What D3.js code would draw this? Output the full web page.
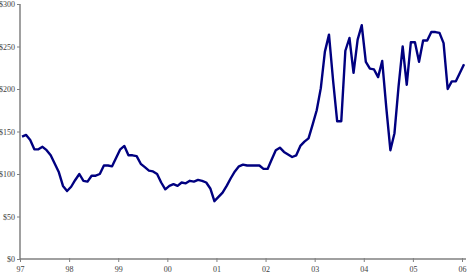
<!DOCTYPE html>
<html><head><meta charset="utf-8">
<script src="https://cdn.jsdelivr.net/npm/d3@7"></script>
<style>body{margin:0;background:#fff}svg{display:block}</style>
</head><body>
<svg id="c" width="467" height="273"></svg>
<script>
const startYear = 1997;
const values = [144,146,140,129,129,132,128,122,112,102,86,80,
  85,93,100,92,91,98,98,100,110,110,109,119,
  129,133,122,122,121,112,108,104,103,100,90,82,
  86,88,86,90,89,92,91,93,92,90,83,68,
  73,78,86,95,103,109,111,110,110,110,110,106,
  106,117,128,131,126,123,120,122,133,138,142,158,
  175,201,244,264,210,162,162,245,260,219,258,275,
  232,224,223,214,233,178,128,148,203,250,205,255,
  255,232,257,257,267,267,266,254,200,209,209,219,229];
const yTicks = [0,50,100,150,200,250,300];
const xTickYears = [1997,1998,1999,2000,2001,2002,2003,2004,2005,2006];
const xTickLabels = ["97","98","99","00","01","02","03","04","05","06"];

const svg = d3.select("#c");
const x = d3.scaleLinear().domain([1997,2006]).range([20,462]);
const y = d3.scaleLinear().domain([0,300]).range([259,4]);
const data = values.map((v,i)=>({t: startYear + (i+0.5)/12, v}));

const font = "'Liberation Serif','Times New Roman',serif";
const gray = "#808080";

// y axis
const ya = svg.append("g").attr("transform","translate(20,0)")
  .call(d3.axisLeft(y).tickValues(yTicks).tickSize(3).tickPadding(2).tickFormat(d=>"$"+d));
ya.select(".domain").attr("stroke",gray).attr("stroke-width",1.5).attr("d","M0,4V259");
ya.selectAll(".tick line").attr("stroke",gray);
ya.selectAll(".tick text").attr("font-family",font).attr("font-size","8px").attr("fill","#404040");

// x axis
const xa = svg.append("g").attr("transform","translate(0,259)")
  .call(d3.axisBottom(x).tickValues(xTickYears).tickSize(3).tickPadding(4)
    .tickFormat((d,i)=>xTickLabels[i]));
xa.select(".domain").attr("stroke",gray).attr("stroke-width",1.5).attr("d","M20,0H466");
xa.selectAll(".tick line").attr("stroke",gray).attr("y1",-1);
xa.selectAll(".tick text").attr("font-family",font).attr("font-size","8px").attr("fill","#404040");

// line
svg.append("path").datum(data)
  .attr("fill","none").attr("stroke","#000080").attr("stroke-width",2.4)
  .attr("stroke-linejoin","round")
  .attr("d", d3.line().x(d=>x(d.t)).y(d=>y(d.v)));
</script>
</body></html>
